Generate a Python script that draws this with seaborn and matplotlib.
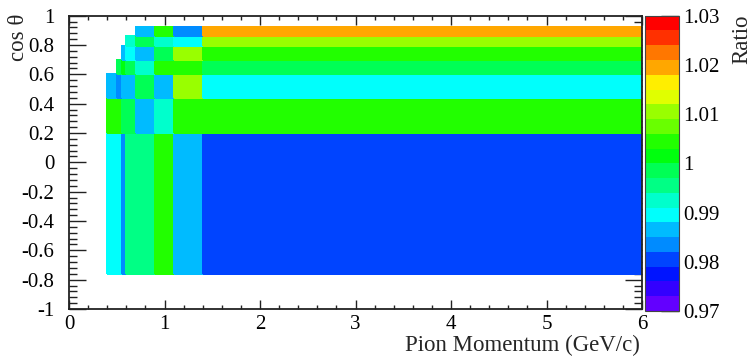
import colorsys

import numpy as np
import matplotlib
matplotlib.use("Agg")
import matplotlib.pyplot as plt
from matplotlib.colors import ListedColormap, BoundaryNorm
from matplotlib.ticker import AutoMinorLocator, MultipleLocator
import seaborn as sns

# Bin edges of the momentum / polar-angle grid
p_edges = [0.4, 0.5, 0.55, 0.6, 0.7, 0.9, 1.1, 1.4, 6.0]
cos_edges = [-0.76, 0.2, 0.44, 0.6, 0.7, 0.79, 0.86, 0.92]

# Ratio per cell, one list per cos(theta) bin (bottom to top), NaN = empty bin
ratio_m076_020 = [0.9895, 0.9895, 0.9835, 0.9955, 0.9955, 1.0045, 0.9865, 0.9805]
ratio_020_044 = [1.0045, 1.0045, 0.9985, 0.9985, 0.9865, 0.9925, 1.0045, 1.0045]
ratio_044_060 = [0.9865, 0.9835, 0.9865, 0.9865, 0.9985, 0.9865, 1.0105, 0.9895]
ratio_060_070 = [np.nan, 0.9985, 1.0015, 0.9985, 0.9925, 1.0045, 1.0045, 0.9985]
ratio_070_079 = [np.nan, np.nan, 0.9865, 0.9895, 0.9865, 0.9985, 1.0105, 1.0045]
ratio_079_086 = [np.nan, np.nan, np.nan, 0.9925, 0.9985, 0.9925, 0.9895, 1.0105]
ratio_086_092 = [np.nan, np.nan, np.nan, np.nan, 0.9865, 1.0045, 0.9835, 1.0195]

# Colour scale: 20 contour levels between these limits
z_min, z_max, n_levels = 0.97, 1.03, 20
cbar_ticks = [0.97, 0.98, 0.99, 1.00, 1.01, 1.02, 1.03]
cbar_ticklabels = ["0.97", "0.98", "0.99", "1", "1.01", "1.02", "1.03"]

# Rainbow palette hues (violet -> red), full saturation
palette_hues = [263.2, 252.0, 235.2, 224.0, 207.2, 196.0, 179.2, 168.0, 151.2, 140.0,
                123.2, 112.0, 95.2, 84.0, 67.2, 56.0, 39.2, 28.0, 11.2, 0.0]

sns.set_theme(style="ticks")
plt.rcParams["font.family"] = ["Liberation Serif", "DejaVu Serif"]
plt.rcParams["axes.edgecolor"] = "#222222"

W, H = 754, 356
fig = plt.figure(figsize=(W / 100, H / 100), dpi=100)
fig.patch.set_facecolor("white")

def fx(px):
    return px / W

def fy(py):
    return 1 - py / H

ax = fig.add_axes([fx(69), fy(309), fx(642) - fx(69), fy(15.7) - fy(309)])
cax = fig.add_axes([fx(645), fy(311), fx(679) - fx(645), fy(15.7) - fy(311)])

colors = [colorsys.hls_to_rgb(h / 360.0, 0.5, 1.0) for h in palette_hues]
cmap = ListedColormap(colors)
levels = np.linspace(z_min, z_max, n_levels + 1)
norm = BoundaryNorm(levels, cmap.N)

z = np.ma.masked_invalid(np.array([
    ratio_m076_020, ratio_020_044, ratio_044_060, ratio_060_070,
    ratio_070_079, ratio_079_086, ratio_086_092,
]))

mesh = ax.pcolormesh(p_edges, cos_edges, z, cmap=cmap, norm=norm,
                     shading="flat", edgecolors="face", linewidth=0.3)

ax.set_xlim(0, 6)
ax.set_ylim(-1, 1)
ax.set_facecolor("white")
ax.xaxis.set_major_locator(MultipleLocator(1))
ax.xaxis.set_minor_locator(AutoMinorLocator(5))
ax.yaxis.set_major_locator(MultipleLocator(0.2))
ax.yaxis.set_minor_locator(AutoMinorLocator(5))
ax.set_yticks(np.round(np.arange(-1, 1.01, 0.2), 1))
ax.set_yticklabels(["-1", "-0.8", "-0.6", "-0.4", "-0.2", "0",
                    "0.2", "0.4", "0.6", "0.8", "1"])
for spine in ax.spines.values():
    spine.set_linewidth(1.3)
    spine.set_color("#222222")

ax.tick_params(axis="both", which="both", direction="in", top=True, right=True,
               colors="#222222", labelcolor="black", labelsize=15, width=1.0)
ax.tick_params(axis="x", which="major", length=6.5, pad=4)
ax.tick_params(axis="x", which="minor", length=3.2)
ax.tick_params(axis="y", which="major", length=12, pad=10.5)
ax.tick_params(axis="y", which="minor", length=6)
for lbl in ax.get_xticklabels():
    lbl.set_x(lbl.get_position()[0])
ax.set_xticks(range(7))
ax.set_xticklabels([str(v) for v in range(7)])

cbar = fig.colorbar(mesh, cax=cax, ticks=cbar_ticks)
cbar.ax.set_yticklabels(cbar_ticklabels)
cbar.outline.set_linewidth(0.8)
cbar.outline.set_edgecolor("#444444")
cbar.ax.tick_params(which="major", direction="in", length=13, width=1.0,
                    colors="#222222", labelcolor="black", labelsize=15, pad=3)
cbar.ax.minorticks_off()

fig.text(fx(19), fy(14), "cos θ", rotation=90, ha="center", va="top", fontsize=16.5)
fig.text(fx(640), fy(345), "Pion Momentum (GeV/c)", ha="right", va="center", fontsize=16.5)
fig.text(fx(742), fy(14), "Ratio", rotation=90, ha="center", va="top", fontsize=16.5)

fig.savefig("out.png", dpi=100, facecolor="white")
